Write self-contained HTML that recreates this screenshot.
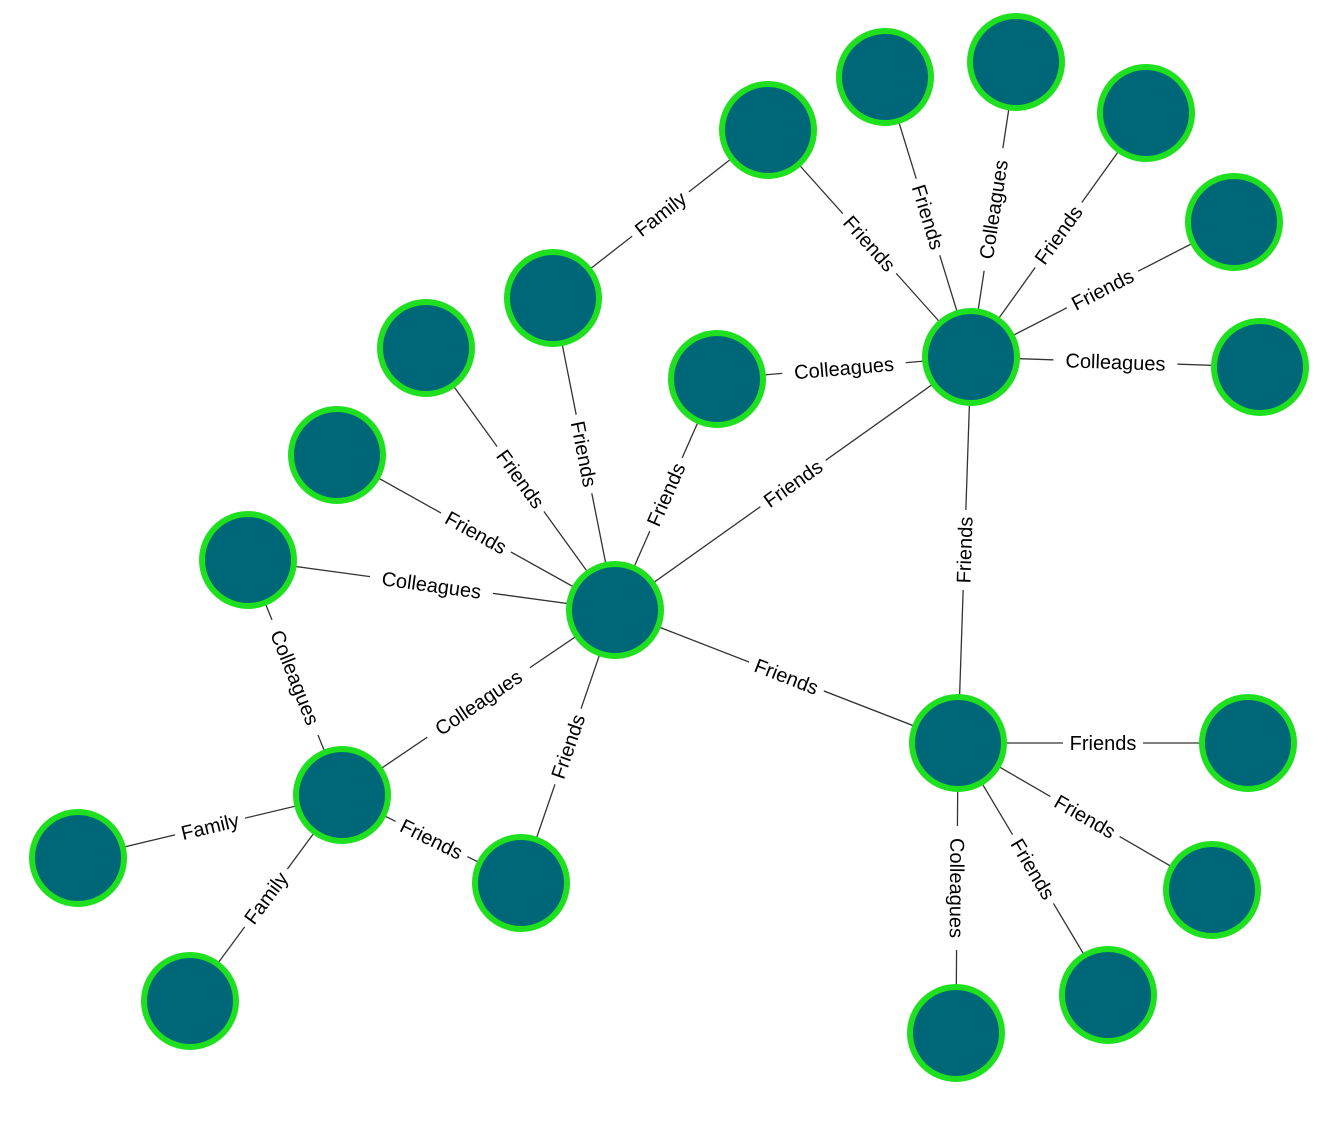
<!DOCTYPE html>
<html><head><meta charset="utf-8"><style>
html,body{margin:0;padding:0;background:#fff;}
svg{display:block;}
text{font-family:"Liberation Sans",Arial,sans-serif;font-size:20px;fill:#000;}
</style></head><body>
<svg id="g" width="1343" height="1131" viewBox="0 0 1343 1131"></svg>
<script>
var N={A:[615,610],B:[971,357],C:[958,743],D:[342,795],
n1:[768,130],n2:[553,298],n3:[885,77],n4:[1016,62],n5:[1146,113],n6:[1234,222],n7:[1260,367],
n8:[717,379],n9:[426,348],n10:[337,455],n11:[248,560],n12:[78,858],n13:[190,1001],n14:[521,883],
n15:[1248,743],n16:[1212,890],n17:[1108,995],n18:[956,1033]};
var E=[["n1","n2","Family"],["n1","B","Friends"],["n3","B","Friends"],["n4","B","Colleagues"],["n5","B","Friends"],
["n6","B","Friends"],["B","n7","Colleagues"],["n8","B","Colleagues"],["A","B","Friends"],["B","C","Friends"],
["n9","A","Friends"],["n2","A","Friends"],["n8","A","Friends"],["n10","A","Friends"],["n11","A","Colleagues"],
["D","A","Colleagues"],["n14","A","Friends"],["A","C","Friends"],["n11","D","Colleagues"],["n12","D","Family"],
["n13","D","Family"],["D","n14","Friends"],["C","n15","Friends"],["C","n16","Friends"],["C","n17","Friends"],["C","n18","Colleagues"]];
var s=document.getElementById('g'),ns="http://www.w3.org/2000/svg",h="";
E.forEach(function(e){var a=N[e[0]],b=N[e[1]];h+='<line x1="'+a[0]+'" y1="'+a[1]+'" x2="'+b[0]+'" y2="'+b[1]+'" stroke="#333" stroke-width="1.3"/>';});
var labels="";
E.forEach(function(e){var a=N[e[0]],b=N[e[1]];var mx=(a[0]+b[0])/2,my=(a[1]+b[1])/2;
var ang=Math.atan2(b[1]-a[1],b[0]-a[0])*180/Math.PI;if(ang>91)ang-=180;if(ang<-90)ang+=180;
var w=e[2]=="Colleagues"?124:(e[2]=="Friends"?80:72);
labels+='<g transform="translate('+mx+','+my+') rotate('+ang+')"><rect x="'+(-w/2)+'" y="-12" width="'+w+'" height="24" fill="#fff"/><text x="0" y="7" text-anchor="middle">'+e[2]+'</text></g>';});
var nodes="";
for(var k in N){nodes+='<circle cx="'+N[k][0]+'" cy="'+N[k][1]+'" r="46" fill="#006778" stroke="#1ee01e" stroke-width="6"/>';}
s.innerHTML=h+labels+nodes;
</script>
</body></html>
